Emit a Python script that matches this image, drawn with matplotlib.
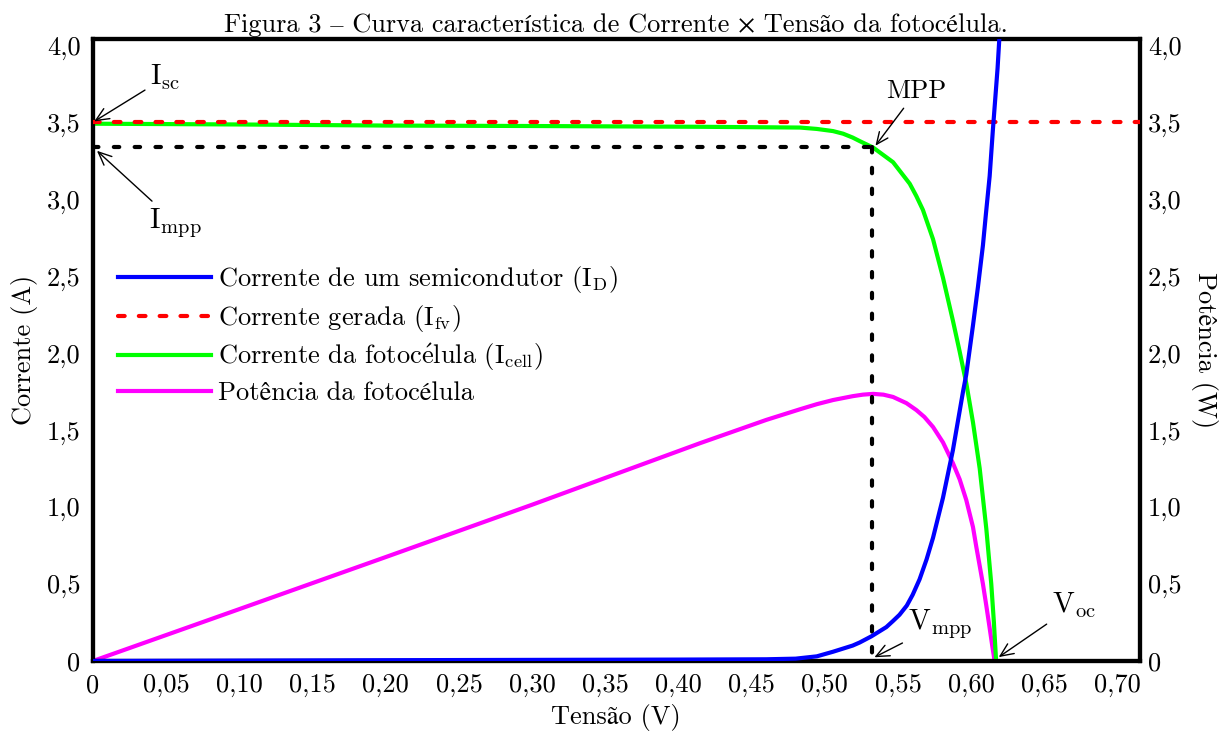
import matplotlib
matplotlib.use("Agg")
import matplotlib.pyplot as plt
from matplotlib.ticker import FixedLocator, FixedFormatter

plt.rcParams['font.family'] = ['cmr10', 'STIXGeneral']
plt.rcParams['mathtext.fontset'] = 'cm'
plt.rcParams['axes.formatter.use_mathtext'] = True

# diode current I_D
v_diode = [0.0, 0.2, 0.4, 0.46, 0.48, 0.4945, 0.5056, 0.519, 0.5238, 0.5318, 0.542, 0.5466,
           0.551, 0.556, 0.560, 0.5647, 0.5695, 0.5739, 0.5807, 0.5875, 0.5944, 0.5966,
           0.6012, 0.6046, 0.608, 0.610, 0.6126, 0.6148, 0.618, 0.6205]
i_diode = [0.0, 0.005, 0.009, 0.011, 0.015, 0.03, 0.06, 0.10, 0.12, 0.16, 0.22, 0.26,
           0.30, 0.36, 0.43, 0.53, 0.66, 0.80, 1.06, 1.37, 1.75, 1.86,
           2.18, 2.43, 2.70, 2.90, 3.15, 3.45, 3.85, 4.25]

# photo-generated current I_fv
v_fv = [0.0, 0.715]
i_fv = [3.5, 3.5]

# cell current I_cell
v_cell = [0.0, 0.1, 0.2, 0.3, 0.4145, 0.483, 0.4945, 0.5056, 0.5125, 0.519, 0.5238, 0.533,
          0.5466, 0.558, 0.5625, 0.567, 0.5739, 0.5807, 0.5875, 0.5921, 0.5967, 0.6012,
          0.6058, 0.6103, 0.6137, 0.6155, 0.617]
i_cell = [3.49, 3.485, 3.478, 3.475, 3.47, 3.465, 3.456, 3.442, 3.425, 3.40, 3.377, 3.335,
          3.24, 3.10, 3.02, 2.93, 2.74, 2.49, 2.21, 2.01, 1.80, 1.55,
          1.25, 0.86, 0.50, 0.25, 0.0]

# cell power
v_pow = [0.0, 0.1, 0.2, 0.3, 0.4145, 0.46, 0.483, 0.4945, 0.5056, 0.519, 0.526, 0.533,
         0.54, 0.5466, 0.5557, 0.5625, 0.568, 0.5739, 0.5807, 0.5875, 0.5921, 0.5966,
         0.6012, 0.6035, 0.608, 0.6103, 0.6125, 0.6145, 0.616]
p_pow = [0.0, 0.337, 0.675, 1.015, 1.414, 1.566, 1.635, 1.668, 1.695, 1.72, 1.73, 1.735,
         1.73, 1.715, 1.675, 1.63, 1.585, 1.52, 1.42, 1.285, 1.18, 1.046,
         0.87, 0.74, 0.50, 0.36, 0.22, 0.09, 0.0]

v_mpp = 0.532
i_mpp = 3.34
i_sc = 3.5
v_oc = 0.617

x_ticks = [0.0, 0.05, 0.10, 0.15, 0.20, 0.25, 0.30, 0.35, 0.40, 0.45, 0.50, 0.55, 0.60, 0.65, 0.70]
x_labels = ['0', '0,05', '0,10', '0,15', '0,20', '0,25', '0,30', '0,35', '0,40', '0,45',
            '0,50', '0,55', '0,60', '0,65', '0,70']
y_ticks = [0.0, 0.5, 1.0, 1.5, 2.0, 2.5, 3.0, 3.5, 4.0]
y_labels = ['0', '0,5', '1,0', '1,5', '2,0', '2,5', '3,0', '3,5', '4,0']

fs = 19

fig = plt.figure(figsize=(12.24, 7.31), dpi=100)
ax = fig.add_axes([0.076, 0.0958, 0.855, 0.8508])
ax2 = ax.twinx()
ax.set_zorder(ax2.get_zorder() + 1)
ax.patch.set_visible(False)

# power on the right axis, currents on the left one
ax2.plot(v_pow, p_pow, color='#ff00ff', lw=3, solid_capstyle='round')
l_pow, = ax.plot([], [], color='#ff00ff', lw=3)
l_cell, = ax.plot(v_cell, i_cell, color='#00ff00', lw=3, zorder=2)
l_fv, = ax.plot(v_fv, i_fv, color='#ff0000', lw=3, ls=(0, (1.6, 3.4)),
                dash_capstyle='round', zorder=3)
ax.plot([0, v_mpp], [i_mpp, i_mpp], color='black', lw=3, ls=(0, (1.3, 3.7)),
        dash_capstyle='round', zorder=3)
ax.plot([v_mpp, v_mpp], [i_mpp, 0], color='black', lw=3, ls=(0, (1.3, 3.7)),
        dash_capstyle='round', zorder=3)
l_diode, = ax.plot(v_diode, i_diode, color='#0000ff', lw=3, zorder=4)

for a in (ax, ax2):
    a.set_xlim(0, 0.715)
    a.set_ylim(0, 4.04)
    for s in a.spines.values():
        s.set_linewidth(3)

ax.xaxis.set_major_locator(FixedLocator(x_ticks))
ax.xaxis.set_major_formatter(FixedFormatter(x_labels))
ax.yaxis.set_major_locator(FixedLocator(y_ticks))
ax.yaxis.set_major_formatter(FixedFormatter(y_labels))
ax2.yaxis.set_major_locator(FixedLocator(y_ticks))
ax2.yaxis.set_major_formatter(FixedFormatter(y_labels))
ax.tick_params(axis='x', length=0, labelsize=fs, pad=9)
ax.tick_params(axis='y', length=0, labelsize=fs, pad=9)
ax2.tick_params(length=0, labelsize=fs, pad=6)

ax.set_xlabel('Tensão (V)', fontsize=fs, labelpad=5)
ax.set_ylabel('Corrente (A)', fontsize=fs, labelpad=6)
ax2.set_ylabel('Potência (W)', fontsize=fs, rotation=270, labelpad=26)
ax.set_title('Figura 3 – Curva característica de Corrente × Tensão da fotocélula.',
             fontsize=19, pad=5)

arrow = dict(arrowstyle='->,head_length=0.45,head_width=0.2', color='black', lw=1,
             shrinkA=2, shrinkB=1)
ax.annotate(r'$\mathrm{I_{sc}}$', xy=(0, i_sc), xytext=(0.039, 3.79), fontsize=fs + 2,
            ha='left', va='center', arrowprops=arrow, zorder=6)
ax.annotate(r'$\mathrm{I_{mpp}}$', xy=(0.002, i_mpp - 0.02), xytext=(0.038, 2.85),
            fontsize=fs + 2, ha='left', va='center', arrowprops=arrow, zorder=6)
ax.annotate('MPP', xy=(v_mpp + 0.002, i_mpp), xytext=(0.5625, 3.70), fontsize=fs,
            ha='center', va='center', arrowprops=arrow, zorder=6)
ax.annotate(r'$\mathrm{V_{mpp}}$', xy=(v_mpp + 0.001, 0.02), xytext=(0.5566, 0.24),
            fontsize=fs + 2, ha='left', va='center', arrowprops=arrow, zorder=6)
ax.annotate(r'$\mathrm{V_{oc}}$', xy=(v_oc + 0.001, 0.02), xytext=(0.655, 0.36),
            fontsize=fs + 2, ha='left', va='center', arrowprops=arrow, zorder=6)

ax.legend([l_diode, l_fv, l_cell, l_pow],
          [r'Corrente de um semicondutor ($\mathrm{I_D}$)',
           r'Corrente gerada ($\mathrm{I_{fv}}$)',
           r'Corrente da fotoc$\mathrm{\acute{e}}$lula ($\mathrm{I_{cell}}$)',
           'Potência da fotocélula'],
          loc='upper left', bbox_to_anchor=(0.024, 0.638), frameon=False, fontsize=fs,
          handlelength=3.5, handletextpad=0.3, labelspacing=0.3, borderpad=0,
          borderaxespad=0)

fig.savefig('out.png', dpi=100)
